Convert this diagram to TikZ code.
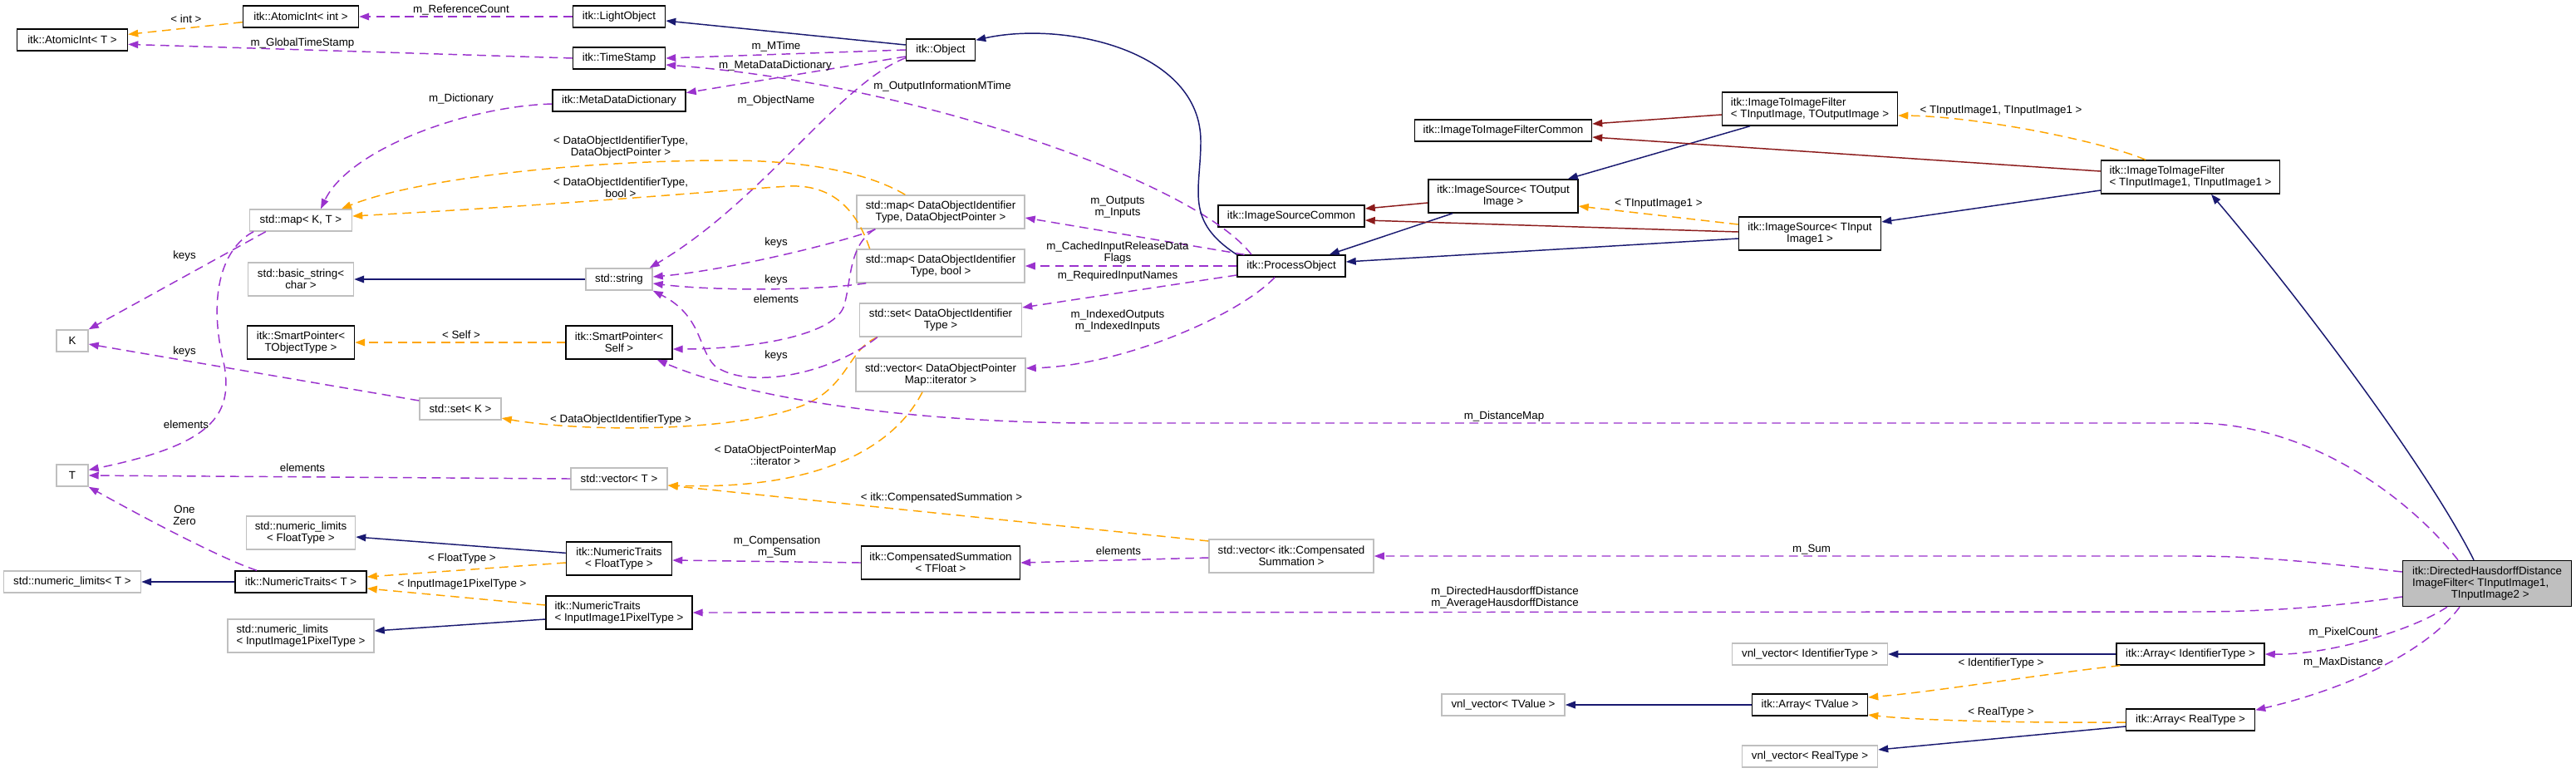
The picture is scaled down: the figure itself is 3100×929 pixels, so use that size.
\documentclass[tikz,border=0pt]{standalone}
\usepackage{fontspec}
\setmainfont{Liberation Sans}
\usetikzlibrary{arrows.meta}
\definecolor{usecol}{HTML}{9A32CD}
\definecolor{tplcol}{HTML}{FFA500}
\definecolor{pubcol}{HTML}{191970}
\definecolor{privcol}{HTML}{8B1A1A}
\definecolor{extcol}{HTML}{BFBFBF}
\tikzset{
  cls/.style={rectangle, draw=black, line width=1.1pt, fill=white, font=\fontsize{10}{10.5}\selectfont, inner xsep=4pt, inner ysep=2pt, minimum height=19.5pt, align=center},
  ext/.style={cls, draw=extcol},
  two/.style={minimum height=30pt},
  bw/.style={minimum width=#1*0.75pt},
  lbl/.style={font=\fontsize{10}{10.5}\selectfont, inner sep=0pt, align=center},
  usage/.style={draw=usecol, line width=1.1pt, dash pattern=on 8pt off 5pt, -{Triangle[length=9pt, width=6.5pt]}},
  tmpl/.style={usage, draw=tplcol},
  inherit/.style={draw=pubcol, line width=1.1pt, -{Triangle[length=9pt, width=6.5pt]}},
  privinh/.style={inherit, draw=privcol}
}

\begin{document}
\begin{tikzpicture}[x=0.75pt, y=-0.75pt]
  \useasboundingbox (0,0) rectangle (3100,929);

  % classes, column by column
  \node (aint_t) [cls, bw=133] at (87,48) {itk::AtomicInt< T >};
  \node (kk) [ext, bw=38] at (87,410) {K};
  \node (tt) [ext, bw=38] at (87,572) {T};
  \node (nlt) [ext, bw=165] at (87,700) {std::numeric\_limits< T >};

  \node (aint_int) [cls, bw=139] at (362,20) {itk::AtomicInt< int >};
  \node (mapkt) [ext, bw=123] at (362,265) {std::map< K, T >};
  \node (bstring) [ext, two, bw=127] at (362,336) {std::basic\_string<\\char >};
  \node (sptot) [cls, two, bw=129] at (362,412) {itk::SmartPointer<\\TObjectType >};
  \node (setk) [ext, bw=98] at (554,492) {std::set< K >};
  \node (nlfloat) [ext, two, bw=131] at (362,641) {std::numeric\_limits\\< FloatType >};
  \node (ntt) [cls, bw=158] at (362,700) {itk::NumericTraits< T >};
  \node (nlpix) [ext, two, bw=176, align=left] at (362,765) {std::numeric\_limits\\< InputImage1PixelType >};

  \node (lightobj) [cls, bw=111] at (745,20) {itk::LightObject};
  \node (tstamp) [cls, bw=111] at (745,70) {itk::TimeStamp};
  \node (mdd) [cls, bw=160] at (745,121) {itk::MetaDataDictionary};
  \node (string) [ext, bw=80] at (745,336) {std::string};
  \node (spself) [cls, two, bw=128] at (745,412) {itk::SmartPointer<\\Self >};
  \node (vect) [ext, bw=116] at (745,576) {std::vector< T >};
  \node (ntfloat) [cls, two, bw=127] at (745,672) {itk::NumericTraits\\< FloatType >};
  \node (ntpix) [cls, two, bw=176, align=left] at (745,737) {itk::NumericTraits\\< InputImage1PixelType >};

  \node (obj) [cls, bw=83] at (1132,60) {itk::Object};
  \node (mapdop) [ext, two, bw=202] at (1132,255) {std::map< DataObjectIdentifier\\Type, DataObjectPointer >};
  \node (mapbool) [ext, two, bw=202] at (1132,320) {std::map< DataObjectIdentifier\\Type, bool >};
  \node (setdoit) [ext, two, bw=195] at (1132,385) {std::set< DataObjectIdentifier\\Type >};
  \node (vecit) [ext, two, bw=204] at (1132,451) {std::vector< DataObjectPointer\\Map::iterator >};
  \node (csum) [cls, two, bw=191] at (1132,677) {itk::CompensatedSummation\\< TFloat >};

  \node (iscommon) [cls, bw=176] at (1554,260) {itk::ImageSourceCommon};
  \node (procobj) [cls, bw=130] at (1554,320) {itk::ProcessObject};
  \node (veccs) [ext, two, bw=198] at (1554,669) {std::vector< itk::Compensated\\Summation >};

  \node (itifcommon) [cls, bw=213] at (1809,157) {itk::ImageToImageFilterCommon};
  \node (isout) [cls, two, bw=180] at (1809,236) {itk::ImageSource< TOutput\\Image >};
  \node (vnltv) [ext, bw=148] at (1809,848) {vnl\_vector< TValue >};

  \node (itifio) [cls, two, bw=211, align=left] at (2178,131) {itk::ImageToImageFilter\\< TInputImage, TOutputImage >};
  \node (isin) [cls, two, bw=171] at (2178,281) {itk::ImageSource< TInput\\Image1 >};
  \node (vnlid) [ext, bw=187] at (2178,787) {vnl\_vector< IdentifierType >};
  \node (arrtv) [cls, bw=139] at (2178,848) {itk::Array< TValue >};
  \node (vnlreal) [ext, bw=163] at (2178,910) {vnl\_vector< RealType >};

  \node (itif11) [cls, two, bw=215, align=left] at (2636,213) {itk::ImageToImageFilter\\< TInputImage1, TInputImage1 >};
  \node (arrid) [cls, bw=178] at (2636,787) {itk::Array< IdentifierType >};
  \node (arrreal) [cls, bw=155] at (2636,866) {itk::Array< RealType >};

  \node (dhd) [cls, fill=extcol, bw=203, minimum height=41.25pt, align=left] at (2993,702) {itk::DirectedHausdorffDistance\\ImageFilter< TInputImage1,\\\hspace*{35pt}TInputImage2 >};

  % top: atomic ints, light object, time stamps
  \draw [tmpl] ([yshift=-5pt]aint_int.west) -- ([yshift=5pt]aint_t.east);
  \draw [usage] (lightobj.west) -- (aint_int.east);
  \draw [usage] (tstamp.west) -- ([yshift=-4pt]aint_t.east);
  \draw [inherit] ([yshift=4.5pt]obj.west) -- ([yshift=-3.75pt]lightobj.east);
  \draw [usage] (obj.west) -- (tstamp.east);
  \draw [usage] ([yshift=-6pt]obj.west) -- ([yshift=7pt]mdd.east);
  \draw [usage] ([xshift=-36pt]procobj.north) .. controls (1440,220) and (1100,100) .. ([yshift=-6pt]tstamp.east);
  \draw [usage] ([yshift=3pt]obj.south west) .. controls (1010,100) and (920,240) .. ([xshift=-3pt]string.north east);
  \draw [inherit] (string.west) -- (bstring.east);
  \draw [tmpl] (spself.west) -- (sptot.east);

  % maps, sets and vectors
  \draw [usage] ([yshift=-3pt]mdd.west) .. controls (560,128) and (420,180) .. ([xshift=18pt]mapkt.north);
  \draw [tmpl] ([xshift=-32pt]mapdop.north) .. controls (1040,205) and (960,193) .. (874,193) .. controls (700,193) and (500,215) .. ([xshift=-10pt]mapkt.north east);
  \draw [tmpl] ([xshift=-64pt]mapbool.north) .. controls (1030,250) and (1000,222) .. (950,224) .. controls (880,228) and (700,245) .. ([yshift=3.75pt]mapkt.east);
  \draw [usage] ([xshift=15pt]mapkt.south west) -- (kk.north east);
  \draw [usage] ([xshift=4pt]mapkt.south west) .. controls (265,300) and (250,360) .. (270,440) .. controls (280,500) and (255,535) .. ([yshift=5pt]tt.east);
  \draw [usage] ([yshift=7.5pt]setk.west) -- ([yshift=-3pt]kk.east);
  \draw [tmpl] ([xshift=16.5pt]setdoit.south west) .. controls (1020,420) and (1020,470) .. (960,490) .. controls (880,520) and (700,520) .. ([yshift=2pt]setk.south east);
  \draw [usage] (vect.west) -- (tt.east);
  \draw [tmpl] ([xshift=-16.5pt]vecit.south) .. controls (1080,530) and (1000,590) .. ([yshift=-6pt]vect.east);
  \draw [tmpl] ([yshift=-2pt]veccs.north west) -- ([yshift=-6pt]vect.east);
  \draw [usage] ([xshift=17.25pt]mapdop.south west) .. controls (1030,287) and (880,325) .. ([yshift=2.25pt]string.east);
  \draw [usage] ([xshift=9pt]mapbool.south west) .. controls (980,350) and (860,350) .. ([yshift=-3.75pt]string.east);
  \draw [usage] ([xshift=16.5pt]setdoit.south west) .. controls (1000,450) and (900,470) .. (860,440) .. controls (840,420) and (845,380) .. (string.south east);
  \draw [usage] ([xshift=17.25pt]mapdop.south west) .. controls (1020,295) and (1025,340) .. (1015,370) .. controls (1000,405) and (900,420) .. ([yshift=-6pt]spself.east);

  % numeric traits
  \draw [usage] ([yshift=-1.5pt]veccs.west) -- (csum.east);
  \draw [usage] (csum.west) -- ([yshift=-1.5pt]ntfloat.east);
  \draw [inherit] ([yshift=5pt]ntfloat.west) -- ([yshift=-3.75pt]nlfloat.east);
  \draw [tmpl] ([yshift=-3.75pt]ntfloat.west) -- ([yshift=4.5pt]ntt.east);
  \draw [tmpl] ([yshift=6.75pt]ntpix.west) -- ([yshift=-6pt]ntt.east);
  \draw [inherit] ([yshift=-6pt]ntpix.west) -- ([yshift=4.5pt]nlpix.east);
  \draw [inherit] (ntt.west) -- (nlt.east);
  \draw [usage] ([xshift=-39.75pt]ntt.north) .. controls (260,670) and (150,610) .. (tt.south east);

  % process object
  \draw [inherit] (procobj.north west) .. controls (1425,265) and (1445,230) .. (1445,170) .. controls (1445,60) and (1280,25) .. ([yshift=-1.5pt]obj.north east);
  \draw [usage] ([xshift=7pt]procobj.north west) -- ([yshift=-5.25pt]mapdop.east);
  \draw [usage] (procobj.west) -- (mapbool.east);
  \draw [usage] ([yshift=-8.25pt]procobj.west) -- ([yshift=11.25pt]setdoit.east);
  \draw [usage] ([xshift=-15pt]procobj.south) .. controls (1490,380) and (1350,440) .. ([yshift=6pt]vecit.east);

  % image sources and filters
  \draw [privinh] ([yshift=-6pt]isout.west) -- ([yshift=6.75pt]iscommon.east);
  \draw [inherit] ([xshift=-45.75pt]isout.south) -- ([xshift=-15pt]procobj.north east);
  \draw [privinh] ([yshift=1.5pt]isin.west) -- ([yshift=-3.75pt]iscommon.east);
  \draw [inherit] ([yshift=-4.5pt]isin.west) -- ([yshift=3.75pt]procobj.east);
  \draw [tmpl] ([yshift=8.25pt]isin.west) -- ([yshift=-9pt]isout.east);
  \draw [privinh] ([yshift=-5.25pt]itifio.west) -- ([yshift=6pt]itifcommon.east);
  \draw [inherit] ([xshift=-54pt]itifio.south) -- ([xshift=-9.75pt]isout.north east);
  \draw [tmpl] ([xshift=-40.5pt]itif11.north) .. controls (2530,170) and (2380,140) .. ([yshift=-6pt]itifio.east);
  \draw [privinh] ([yshift=5.25pt]itif11.west) -- ([yshift=-6pt]itifcommon.east);
  \draw [inherit] ([yshift=-12pt]itif11.west) -- ([yshift=10.5pt]isin.east);
  \draw [inherit] ([xshift=-12pt]dhd.north) .. controls (2920,560) and (2760,350) .. ([xshift=18.75pt]itif11.south);

  % members of the Hausdorff filter
  \draw [usage] ([xshift=-26.25pt]dhd.north) .. controls (2900,600) and (2780,509) .. (2640,509) -- (1320,509) .. controls (1100,509) and (900,480) .. ([xshift=-14.25pt]spself.south east);
  \draw [usage] ([yshift=10.5pt]dhd.west) .. controls (2800,678) and (2720,669) .. (2640,669) -- (veccs.east);
  \draw [usage] ([yshift=-12pt]dhd.west) .. controls (2800,731) and (2720,736) .. (2640,736) -- (ntpix.east);
  \draw [usage] ([xshift=-36pt]dhd.south) .. controls (2900,760) and (2800,788) .. (arrid.east);
  \draw [usage] ([xshift=-24.75pt]dhd.south) .. controls (2920,785) and (2820,830) .. ([yshift=-1.5pt]arrreal.north east);

  % arrays
  \draw [inherit] (arrid.west) -- (vnlid.east);
  \draw [tmpl] ([xshift=3.75pt]arrid.south west) .. controls (2450,812) and (2330,832) .. ([yshift=6.75pt]arrtv.east);
  \draw [tmpl] ([yshift=-2.25pt]arrreal.west) .. controls (2420,870) and (2300,866) .. ([yshift=-9pt]arrtv.east);
  \draw [inherit] (arrtv.west) -- (vnltv.east);
  \draw [inherit] ([yshift=-6pt]arrreal.west) -- ([yshift=6pt]vnlreal.east);

  % edge labels
  \node (l_int) [lbl] at (224,23) {< int >};
  \node (l_refcnt) [lbl] at (555,12) {m\_ReferenceCount};
  \node (l_gts) [lbl] at (364,52) {m\_GlobalTimeStamp};
  \node (l_mtime) [lbl] at (934,56) {m\_MTime};
  \node (l_mdd) [lbl] at (933,79) {m\_MetaDataDictionary};
  \node (l_oimt) [lbl] at (1134,104) {m\_OutputInformationMTime};
  \node (l_oname) [lbl] at (934,121) {m\_ObjectName};
  \node (l_dict) [lbl] at (555,119) {m\_Dictionary};
  \node (l_self) [lbl] at (555,403) {< Self >};
  \node (l_dop) [lbl] at (747,177.5) {< DataObjectIdentifierType,\\DataObjectPointer >};
  \node (l_dbool) [lbl] at (747,225.5) {< DataObjectIdentifierType,\\bool >};
  \node (l_keys1) [lbl] at (222,308) {keys};
  \node (l_elem1) [lbl] at (224,511) {elements};
  \node (l_keys2) [lbl] at (222,423) {keys};
  \node (l_doit) [lbl] at (747,505) {< DataObjectIdentifierType >};
  \node (l_elem2) [lbl] at (364,563) {elements};
  \node (l_iter) [lbl] at (933,547.5) {< DataObjectPointerMap\\::iterator >};
  \node (l_cs) [lbl] at (1133,599) {< itk::CompensatedSummation >};
  \node (l_elem3) [lbl] at (1346,663) {elements};
  \node (l_comp) [lbl] at (935,658) {m\_Compensation\\m\_Sum};
  \node (l_float) [lbl] at (556,672) {< FloatType >};
  \node (l_pix) [lbl] at (556,703) {< InputImage1PixelType >};
  \node (l_onezero) [lbl] at (222,619.5) {One\\Zero};
  \node (l_keys3) [lbl] at (934,292) {keys};
  \node (l_keys4) [lbl] at (934,337) {keys};
  \node (l_elem4) [lbl] at (934,360) {elements};
  \node (l_keys5) [lbl] at (934,428) {keys};
  \node (l_io) [lbl] at (1345,249.5) {m\_Outputs\\m\_Inputs};
  \node (l_cached) [lbl] at (1345,304.5) {m\_CachedInputReleaseData\\Flags};
  \node (l_req) [lbl] at (1345,332) {m\_RequiredInputNames};
  \node (l_idx) [lbl] at (1345,386) {m\_IndexedOutputs\\m\_IndexedInputs};
  \node (l_tin) [lbl] at (1996,245) {< TInputImage1 >};
  \node (l_tin2) [lbl] at (2408,133) {< TInputImage1, TInputImage1 >};
  \node (l_dmap) [lbl] at (1810,501) {m\_DistanceMap};
  \node (l_sum) [lbl] at (2180,661) {m\_Sum};
  \node (l_hd) [lbl] at (1811,719.5) {m\_DirectedHausdorffDistance\\m\_AverageHausdorffDistance};
  \node (l_pc) [lbl] at (2820,761) {m\_PixelCount};
  \node (l_maxd) [lbl] at (2820,797) {m\_MaxDistance};
  \node (l_idt) [lbl] at (2408,798) {< IdentifierType >};
  \node (l_rt) [lbl] at (2408,857) {< RealType >};
\end{tikzpicture}
\end{document}
